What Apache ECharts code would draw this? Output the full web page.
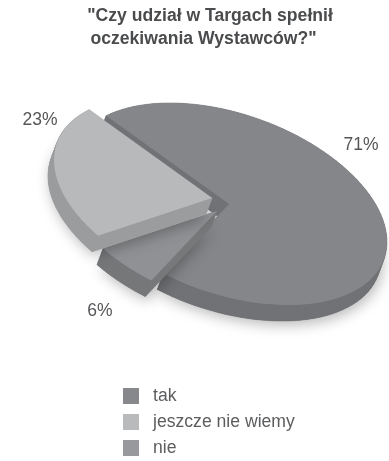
<!DOCTYPE html>
<html>
<head>
<meta charset="utf-8">
<style>html,body{margin:0;padding:0;background:#fff}#chart{width:389px;height:461px}</style>
<script src="https://cdn.jsdelivr.net/npm/echarts@6/dist/echarts.min.js"></script>
</head>
<body>
<div id="chart"></div>
<script>
// Survey answers, in legend order
const categories = ['tak', 'jeszcze nie wiemy', 'nie'];
const shares = [71, 23, 6];
const titleLines = ['"Czy udział w Targach spełnił', 'oczekiwania Wystawców?"'];

// Clockwise sequence of the slices around the disc, by category index
const sweepOrder = [0, 2, 1];

const faceColors = ['#858689', '#b8b9bb', '#909194'];
const wallColors = ['#717275', '#9b9c9e', '#77787a'];
const legendColors = ['#87888b', '#b9babc', '#98999c'];
const explode = [[0, 0], [-17, -6], [-12, 7]];
const labelAnchors = [[361, 145], [40, 120], [100, 311]];
const stackOrder = [1, 3, 2];
const titleCentres = [210, 203.5];

// Tilted disc geometry
const disc = { cx: 229, cy: 204, a: 164.5, b: 90, tilt: 19.5, start: 208, depthX: -6, depthY: 16 };

const total = shares.reduce((s, v) => s + v, 0);
const arcs = {};
let cursor = disc.start;
sweepOrder.forEach(i => {
  const span = shares[i] / total * 360;
  arcs[i] = [cursor, cursor + span];
  cursor += span;
});

function discPoint(deg, dx, dy) {
  const t = deg * Math.PI / 180, phi = disc.tilt * Math.PI / 180;
  const u = disc.a * Math.cos(t), v = disc.b * Math.sin(t);
  return [disc.cx + dx + u * Math.cos(phi) - v * Math.sin(phi),
          disc.cy + dy + u * Math.sin(phi) + v * Math.cos(phi)];
}

function sectorOutline(i) {
  const [from, to] = arcs[i], [dx, dy] = explode[i];
  const pts = [[disc.cx + dx, disc.cy + dy]];
  for (let k = 0; k <= 90; k++) pts.push(discPoint(from + (to - from) * k / 90, dx, dy));
  return pts;
}

function renderSlice(i) {
  return function (params, api) {
    const value = api.value(0);
    const top = sectorOutline(i);
    const drop = p => [p[0] + disc.depthX, p[1] + disc.depthY];
    const base = top.map(drop);
    const children = [{
      type: 'polygon', shape: { points: base },
      style: { fill: wallColors[i], shadowColor: 'rgba(0,0,0,0.28)', shadowBlur: 14, shadowOffsetX: 2, shadowOffsetY: 4 }
    }];
    top.forEach((p, k) => {
      const q = top[(k + 1) % top.length];
      children.push({
        type: 'polygon', shape: { points: [p, q, drop(q), drop(p)] },
        style: { fill: wallColors[i], stroke: wallColors[i], lineWidth: 0.5 }
      });
    });
    children.push({ type: 'polygon', shape: { points: top }, style: { fill: faceColors[i] } });
    children.push({
      type: 'text', x: labelAnchors[i][0], y: labelAnchors[i][1],
      style: { text: value + '%', fill: '#555658', font: '17.5px "Liberation Sans", Arial, sans-serif', align: 'center', verticalAlign: 'middle' }
    });
    return { type: 'group', children };
  };
}

const chart = echarts.init(document.getElementById('chart'), null, { renderer: 'canvas' });
chart.setOption({
  animation: false,
  backgroundColor: '#ffffff',
  title: titleLines.map((text, k) => ({
    text, left: titleCentres[k], top: 7 + k * 23, padding: 0, textAlign: 'center',
    textStyle: { fontFamily: '"Liberation Sans", Arial, sans-serif', fontWeight: 'bold', fontSize: 17.6, color: '#4a4b4d' }
  })),
  legend: {
    orient: 'vertical', left: 123, top: 387, height: 120, padding: 0, itemWidth: 16, itemHeight: 16, itemGap: 8,
    data: categories, icon: 'rect', selectedMode: false, itemStyle: { borderWidth: 0 },
    textStyle: { fontFamily: '"Liberation Sans", Arial, sans-serif', fontSize: 17.6, lineHeight: 16, color: '#5c5d5f', padding: [0, 0, 0, 9] }
  },
  series: categories.map((name, i) => ({
    type: 'custom', name, coordinateSystem: 'none', z: stackOrder[i], silent: true,
    itemStyle: { color: legendColors[i] },
    data: [[shares[i]]],
    renderItem: renderSlice(i)
  }))
});
</script>
</body>
</html>
